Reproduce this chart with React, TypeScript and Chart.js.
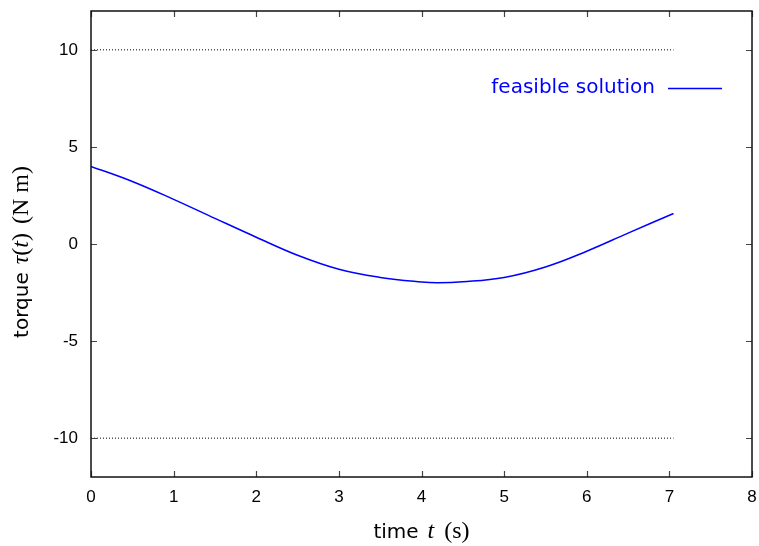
import React, { useEffect, useRef } from "react";
import { Chart, registerables } from "chart.js";

Chart.register(...registerables);

const timeValues = [0, 0.5, 1.0, 1.5, 2.0, 2.5, 3.0, 3.5, 4.0, 4.2, 4.5, 5.0, 5.5, 6.0, 6.5, 7.05];
const torqueValues = [4.0, 3.22, 2.3, 1.32, 0.35, -0.58, -1.3, -1.72, -1.96, -2.0, -1.95, -1.72, -1.18, -0.37, 0.56, 1.57];
const limitTimes = [0, 7.05];
const upperLimit = [10, 10];
const lowerLimit = [-10, -10];
const xTicks = [0, 1, 2, 3, 4, 5, 6, 7, 8];
const yTicks = [-10, -5, 0, 5, 10];
const seriesLabel = "feasible solution";

const BLUE = "#0000ff";

type Seg = { t: string; f: string; gap?: number };

const overlay = {
  id: "overlay",
  afterDraw(chart: any) {
    const ctx = chart.ctx as CanvasRenderingContext2D;
    const a = chart.chartArea;
    const xs = chart.scales.x;
    const ys = chart.scales.y;
    ctx.save();
    // ticks (inward, mirrored)
    ctx.strokeStyle = "#444";
    ctx.lineWidth = 1.2;
    const tl = 6;
    ctx.beginPath();
    for (const v of xTicks) {
      const px = Math.round(xs.getPixelForValue(v)) + 0.5;
      ctx.moveTo(px, a.bottom);
      ctx.lineTo(px, a.bottom - tl);
      ctx.moveTo(px, a.top);
      ctx.lineTo(px, a.top + tl);
    }
    for (const v of yTicks) {
      const py = Math.round(ys.getPixelForValue(v)) + 0.5;
      ctx.moveTo(a.left, py);
      ctx.lineTo(a.left + tl, py);
      ctx.moveTo(a.right, py);
      ctx.lineTo(a.right - tl, py);
    }
    ctx.stroke();
    // box
    ctx.strokeStyle = "#111";
    ctx.lineWidth = 1.5;
    ctx.strokeRect(a.left, a.top, a.right - a.left, a.bottom - a.top);

    // legend
    ctx.fillStyle = BLUE;
    ctx.font = "20px 'DejaVu Sans'";
    ctx.textAlign = "right";
    ctx.textBaseline = "middle";
    ctx.fillText(seriesLabel, 655, 88);
    ctx.strokeStyle = BLUE;
    ctx.lineWidth = 1.5;
    ctx.beginPath();
    ctx.moveTo(668, 88.5);
    ctx.lineTo(722, 88.5);
    ctx.stroke();

    // axis titles with mixed fonts
    const drawMixed = (segs: Seg[], cx: number, cy: number) => {
      let total = 0;
      const widths = segs.map((s) => {
        ctx.font = s.f;
        const w = ctx.measureText(s.t).width + (s.gap || 0);
        total += w;
        return w;
      });
      let x = cx - total / 2;
      ctx.textAlign = "left";
      ctx.textBaseline = "alphabetic";
      ctx.fillStyle = "#000";
      segs.forEach((s, i) => {
        ctx.font = s.f;
        ctx.fillText(s.t, x, cy);
        x += widths[i];
      });
    };
    const sans = "20px 'DejaVu Sans'";
    const ital = "italic 24px 'Liberation Serif'";
    const serif = "24px 'Liberation Serif'";
    drawMixed(
      [
        { t: "time", f: sans, gap: 9 },
        { t: "t", f: ital, gap: 10 },
        { t: "(s)", f: serif },
      ],
      (a.left + a.right) / 2,
      538
    );
    ctx.save();
    ctx.translate(28, 252);
    ctx.rotate(-Math.PI / 2);
    drawMixed(
      [
        { t: "torque", f: sans, gap: 8 },
        { t: "τ", f: ital },
        { t: "(", f: serif },
        { t: "t", f: ital },
        { t: ")", f: serif, gap: 9 },
        { t: "(N", f: serif, gap: 6 },
        { t: "m)", f: serif },
      ],
      0,
      0
    );
    ctx.restore();
    ctx.restore();
  },
};

export default function App() {
  const ref = useRef<HTMLCanvasElement | null>(null);
  useEffect(() => {
    if (!ref.current) return;
    const chart = new Chart(ref.current, {
      type: "line",
      data: {
        datasets: [
          {
            label: seriesLabel,
            data: timeValues.map((t, i) => ({ x: t, y: torqueValues[i] })),
            borderColor: BLUE,
            borderWidth: 1.5,
            pointRadius: 0,
            tension: 0.4,
            fill: false,
          },
          {
            label: "upper",
            data: limitTimes.map((t, i) => ({ x: t, y: upperLimit[i] })),
            borderColor: "#000",
            borderWidth: 1,
            borderDash: [1, 2],
            pointRadius: 0,
            fill: false,
          },
          {
            label: "lower",
            data: limitTimes.map((t, i) => ({ x: t, y: lowerLimit[i] })),
            borderColor: "#000",
            borderWidth: 1,
            borderDash: [1, 2],
            pointRadius: 0,
            fill: false,
          },
        ],
      },
      options: {
        animation: false,
        responsive: false,
        layout: { padding: { left: 0, right: 7, top: 11, bottom: 0 } },
        plugins: { legend: { display: false }, tooltip: { enabled: false } },
        scales: {
          x: {
            type: "linear",
            min: 0,
            max: 8,
            afterBuildTicks: (s: any) => {
              s.ticks = xTicks.map((v) => ({ value: v }));
            },
            afterFit: (s: any) => {
              s.height = 69;
              s.paddingLeft = 0;
              s.paddingRight = 0;
              s.paddingTop = 0;
              s.paddingBottom = 0;
            },
            grid: { display: false, drawTicks: false },
            border: { display: false },
            ticks: {
              color: "#000",
              padding: 10,
              font: { family: "'Liberation Sans'", size: 17 },
              maxRotation: 0,
            },
          },
          y: {
            type: "linear",
            min: -12,
            max: 12,
            afterBuildTicks: (s: any) => {
              s.ticks = yTicks.map((v) => ({ value: v }));
            },
            afterFit: (s: any) => {
              s.width = 91;
              s.paddingLeft = 0;
              s.paddingRight = 0;
              s.paddingTop = 0;
              s.paddingBottom = 0;
            },
            grid: { display: false, drawTicks: false },
            border: { display: false },
            ticks: {
              color: "#000",
              padding: 13,
              font: { family: "'Liberation Sans'", size: 17 },
            },
          },
        },
      },
      plugins: [overlay],
    });
    return () => chart.destroy();
  }, []);
  return (
    <div style={{ position: "absolute", left: 0, top: 0, width: 759, height: 546, background: "#fff" }}>
      <canvas ref={ref} width={759} height={546} />
    </div>
  );
}
